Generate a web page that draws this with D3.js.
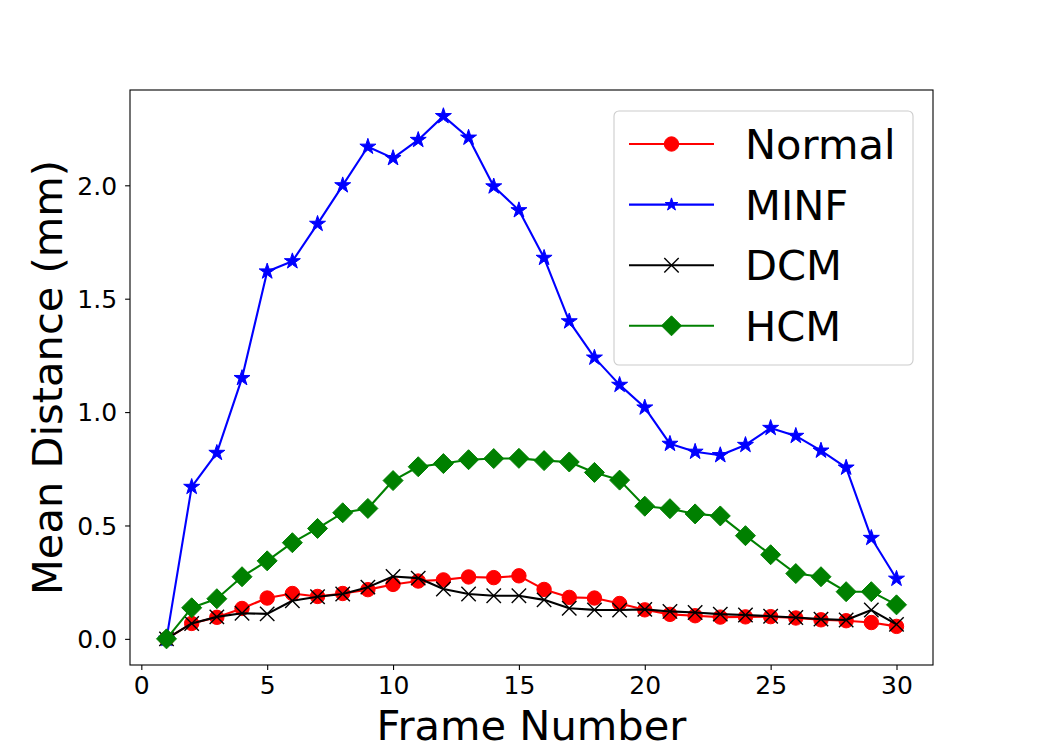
<!DOCTYPE html>
<html>
<head>
<meta charset="utf-8">
<script src="https://cdn.jsdelivr.net/npm/d3@7"></script>
<style>
html,body{margin:0;padding:0;background:#fff;}
svg{display:block;font-family:"DejaVu Sans",sans-serif;}
</style>
</head>
<body>
<svg id="chart" width="1038" height="747"></svg>
<script>
const frames = d3.range(1, 31);
const normal = [0, 0.068, 0.095, 0.134, 0.18, 0.2, 0.187, 0.2, 0.217, 0.24, 0.255, 0.26, 0.273, 0.27, 0.278, 0.218, 0.183, 0.18, 0.156, 0.128, 0.108, 0.102, 0.096, 0.097, 0.098, 0.092, 0.084, 0.08, 0.072, 0.055];
const minf = [0, 0.67, 0.82, 1.15, 1.62, 1.665, 1.83, 2.0, 2.17, 2.12, 2.2, 2.305, 2.21, 1.995, 1.89, 1.68, 1.40, 1.24, 1.12, 1.02, 0.86, 0.825, 0.81, 0.855, 0.93, 0.895, 0.83, 0.755, 0.445, 0.265];
const dcm = [0, 0.068, 0.097, 0.113, 0.11, 0.168, 0.186, 0.198, 0.228, 0.275, 0.268, 0.22, 0.198, 0.19, 0.19, 0.172, 0.135, 0.128, 0.127, 0.13, 0.121, 0.116, 0.109, 0.105, 0.1, 0.094, 0.087, 0.083, 0.127, 0.064];
const hcm = [0, 0.137, 0.177, 0.274, 0.344, 0.424, 0.487, 0.556, 0.575, 0.698, 0.759, 0.773, 0.79, 0.795, 0.796, 0.786, 0.78, 0.734, 0.70, 0.585, 0.574, 0.551, 0.542, 0.455, 0.371, 0.288, 0.274, 0.208, 0.208, 0.150];
const seriesNames = ["Normal", "MINF", "DCM", "HCM"];
const seriesColors = ["#ff0000", "#0000ff", "#000000", "#008000"];
const seriesMarkers = ["circle", "star", "x", "diamond"];
const seriesValues = [normal, minf, dcm, hcm];
const xTicks = [0, 5, 10, 15, 20, 25, 30];
const yTicks = [0.0, 0.5, 1.0, 1.5, 2.0];
const xLabel = "Frame Number";
const yLabel = "Mean Distance (mm)";

const svg = d3.select("#chart");
const L = 130, R = 933, T = 90, B = 665;
const x = d3.scaleLinear().domain([-0.45, 31.45]).range([L, R]);
const yMax = d3.max(seriesValues.flat());
const pad = yMax * 0.05;
const y = d3.scaleLinear().domain([-pad, yMax + pad]).range([B, T]);

svg.append("rect").attr("width", 1038).attr("height", 747).attr("fill", "#fff");

// axes
const xAxis = d3.axisBottom(x).tickValues(xTicks).tickFormat(d3.format("d")).tickSize(4.9).tickPadding(6);
const gx = svg.append("g").attr("transform", `translate(0,${B})`).call(xAxis);
gx.select(".domain").remove();
gx.selectAll("line").attr("stroke", "#000").attr("stroke-width", 1.1);
gx.selectAll("text").attr("font-size", 25).attr("fill", "#000").attr("font-family", "DejaVu Sans");

const yAxis = d3.axisLeft(y).tickValues(yTicks).tickFormat(d3.format(".1f")).tickSize(4.9).tickPadding(8);
const gy = svg.append("g").attr("transform", `translate(${L},0)`).call(yAxis);
gy.select(".domain").remove();
gy.selectAll("line").attr("stroke", "#000").attr("stroke-width", 1.1);
gy.selectAll("text").attr("font-size", 25).attr("fill", "#000").attr("font-family", "DejaVu Sans").attr("dy", "0.35em");

// frame
svg.append("rect").attr("x", L).attr("y", T).attr("width", R - L).attr("height", B - T)
  .attr("fill", "none").attr("stroke", "#000").attr("stroke-width", 1.1);

// labels
svg.append("text").attr("x", (L + R) / 2).attr("y", 740).attr("text-anchor", "middle")
  .attr("font-size", 41.6).attr("fill", "#000").text(xLabel);
svg.append("text").attr("transform", `translate(62,${(T + B) / 2}) rotate(-90)`).attr("text-anchor", "middle")
  .attr("font-size", 41.6).attr("fill", "#000").text(yLabel);

function drawMarker(g, type, color, cx, cy, scale) {
  scale = scale || 1;
  if (type === "circle") {
    g.append("circle").attr("cx", cx).attr("cy", cy).attr("r", 7.2 * scale).attr("fill", color).attr("stroke", color).attr("stroke-width", 1);
  } else if (type === "star") {
    const Ro = 8.4 * scale, Ri = Ro * 0.382;
    const pts = [];
    for (let i = 0; i < 10; i++) {
      const a = -Math.PI / 2 + i * Math.PI / 5;
      const rr = i % 2 === 0 ? Ro : Ri;
      pts.push([cx + rr * Math.cos(a), cy + rr * Math.sin(a)]);
    }
    g.append("path").attr("d", "M" + pts.map(p => p.join(",")).join("L") + "Z").attr("fill", color).attr("stroke", color).attr("stroke-width", 1);
  } else if (type === "x") {
    const h = 7.2 * scale;
    g.append("path").attr("d", `M${cx - h},${cy - h}L${cx + h},${cy + h}M${cx - h},${cy + h}L${cx + h},${cy - h}`)
      .attr("stroke", color).attr("stroke-width", 1.4).attr("fill", "none");
  } else if (type === "diamond") {
    const h = 10 * scale;
    g.append("path").attr("d", `M${cx},${cy - h}L${cx + h},${cy}L${cx},${cy + h}L${cx - h},${cy}Z`)
      .attr("fill", color).attr("stroke", color).attr("stroke-width", 1);
  }
}

const plot = svg.append("g");
const line = d3.line().x((d, i) => x(frames[i])).y(d => y(d));
seriesValues.forEach((vals, si) => {
  const g = plot.append("g");
  g.append("path").datum(vals).attr("d", line).attr("fill", "none")
    .attr("stroke", seriesColors[si]).attr("stroke-width", 2.1).attr("stroke-linejoin", "round");
  vals.forEach((v, i) => drawMarker(g, seriesMarkers[si], seriesColors[si], x(frames[i]), y(v)));
});

// legend
const lg = svg.append("g");
lg.append("rect").attr("x", 614).attr("y", 111).attr("width", 299).attr("height", 254).attr("rx", 5)
  .attr("fill", "#fff").attr("fill-opacity", 0.8).attr("stroke", "#cccccc").attr("stroke-width", 1.1);
seriesNames.forEach((name, i) => {
  const ly = 144 + i * 60.6;
  lg.append("line").attr("x1", 629).attr("x2", 714).attr("y1", ly).attr("y2", ly)
    .attr("stroke", seriesColors[i]).attr("stroke-width", 2.1);
  drawMarker(lg, seriesMarkers[i], seriesColors[i], 671.5, ly, seriesMarkers[i] === "star" ? 0.8 : 1);
  lg.append("text").attr("x", 745).attr("y", ly + 15).attr("font-size", 41.6).attr("fill", "#000").text(name);
});
</script>
</body>
</html>
